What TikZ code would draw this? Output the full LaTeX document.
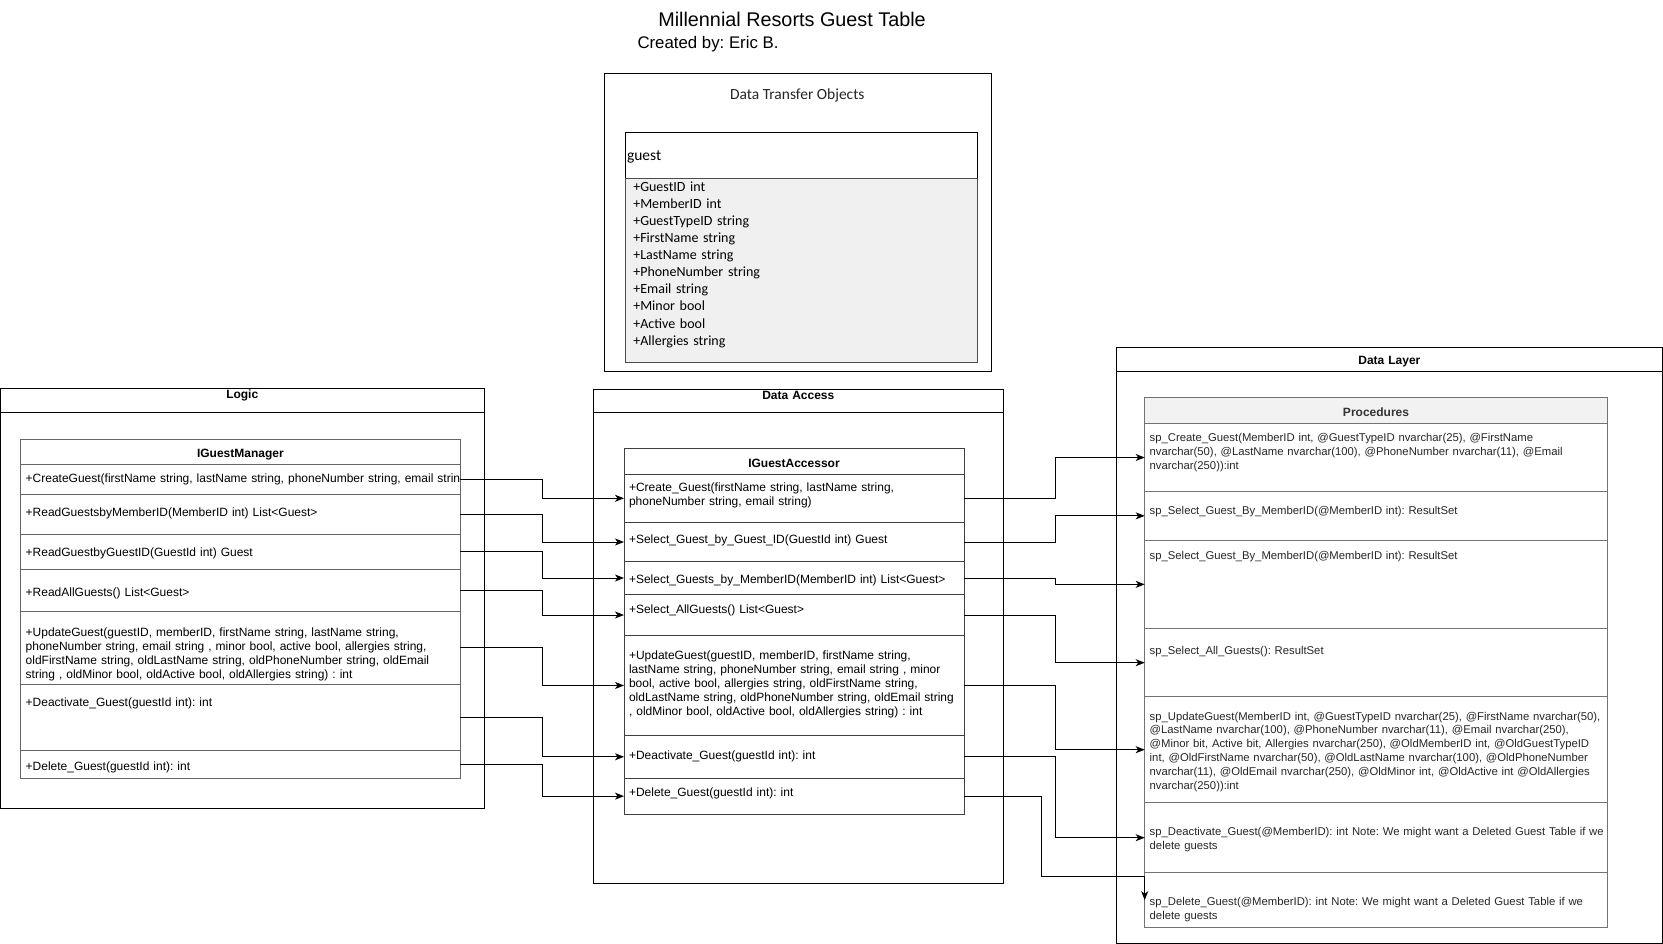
\documentclass[tikz,border=0pt]{standalone}
\usepackage{fontspec}
\setmainfont{Liberation Sans}
\newfontfamily\dtofont{Carlito}
\usetikzlibrary{arrows.meta,positioning}
\newcommand{\umlfont}{\fontsize{12}{14}\selectfont\frenchspacing\hyphenpenalty=10000 }
\newcommand{\procfont}{\fontsize{11.3}{13.9}\selectfont\frenchspacing\hyphenpenalty=10000 }

\begin{document}
\begin{tikzpicture}[x=1pt,y=-1pt,line width=1pt,
	every node/.style={outer sep=0pt},
	row/.style 2 args={anchor=north west,inner xsep=5pt,inner ysep=0pt,text height=#1,text depth=#2,align=left,font=\umlfont},
	lane/.style 2 args={row={#1}{#2},draw=black,inner xsep=0pt,align=center,font=\umlfont\bfseries},
	mgr/.style 2 args={row={#1}{#2},draw=black!60,text width=429.3},
	acc/.style 2 args={row={#1}{#2},draw=black!75,text width=330},
	proc/.style 2 args={row={#1}{#2},draw=black!55,text=black!85,text width=452.6,font=\procfont},
	conn/.style={draw=black,-{Stealth[length=9pt,width=7pt,inset=2.5pt]}}]
	\useasboundingbox (0,0) rectangle (1663,944);
	% Title
	\node [anchor=base,font=\fontsize{19.8}{22}\selectfont] (title) at (792,26.5) {Millennial Resorts Guest Table};
	\node [anchor=base,font=\fontsize{16.8}{19}\selectfont\frenchspacing] (author) at (708,48.3) {Created by: Eric B.};
	% Data Transfer Objects
	\node [draw,anchor=north west,minimum width=387.4,minimum height=297.7] (dto) at (604.3,73.3) {};
	\node [anchor=base,text=black!85,font=\dtofont\fontsize{15.5}{18}\selectfont] (dtotitle) at (797.3,99.5) {Data Transfer Objects};
	\node [row={28.4}{17.6},draw=black,inner xsep=2pt,text width=348.7,font=\dtofont\fontsize{15.5}{18}\selectfont] (guesthead) at (625,132.3) {guest};
	\node [row={13}{171},draw=black!70,fill=black!6,inner xsep=8.3pt,text width=336.1,font=\dtofont\fontsize{14}{17.1}\selectfont] (guestbody) at (guesthead.south west) {+GuestID int\\+MemberID int\\+GuestTypeID string\\+FirstName string\\+LastName string\\+PhoneNumber string\\+Email string\\+Minor bool\\+Active bool\\+Allergies string};
	% Logic
	\node [lane={10}{14},text width=483.5] (logichead) at (0.5,388) {Logic};
	\node [draw,anchor=north west,minimum width=483.5,minimum height=396] (logic) at (logichead.south west) {};
	\node [mgr={18}{7},draw=black!60,align=center,font=\umlfont\bfseries] (mgrhead) at (20.7,439) {IGuestManager};
	\node [mgr={18.7}{12}] (mgr1) at (mgrhead.south west) {\mbox{+CreateGuest(firstName string, lastName string, phoneNumber string, email strin}};
	\node [mgr={22}{17.3}] (mgr2) at (mgr1.south west) {+ReadGuestsbyMemberID(MemberID int) List<Guest>};
	\node [mgr={22.7}{12.3}] (mgr3) at (mgr2.south west) {+ReadGuestbyGuestID(GuestId int) Guest};
	\node [mgr={27.7}{15}] (mgr4) at (mgr3.south west) {+ReadAllGuests() List<Guest>};
	\node [mgr={25}{47.3}] (mgr5) at (mgr4.south west) {+UpdateGuest(guestID, memberID, firstName string, lastName string,\\phoneNumber string, email string , minor bool, active bool, allergies string,\\oldFirstName string, oldLastName string, oldPhoneNumber string, oldEmail\\string , oldMinor bool, oldActive bool, oldAllergies string) : int};
	\node [mgr={22.7}{44}] (mgr6) at (mgr5.south west) {+Deactivate\_Guest(guestId int): int};
	\node [mgr={20}{8}] (mgr7) at (mgr6.south west) {+Delete\_Guest(guestId int): int};
	% Data Access
	\node [lane={10.5}{12.5},text width=410] (acchead) at (593.3,389) {Data Access};
	\node [draw,anchor=north west,minimum width=410,minimum height=471.3] (access) at (acchead.south west) {};
	\node [acc={18.3}{7.3},align=center,font=\umlfont\bfseries] (accessorhead) at (624,448.7) {IGuestAccessor};
	\node [acc={17}{31}] (acc1) at (accessorhead.south west) {+Create\_Guest(firstName string, lastName string,\\phoneNumber string, email string)};
	\node [acc={21}{18.4}] (acc2) at (acc1.south west) {+Select\_Guest\_by\_Guest\_ID(GuestId int) Guest};
	\node [acc={21.6}{11}] (acc3) at (acc2.south west) {+Select\_Guests\_by\_MemberID(MemberID int) List<Guest>};
	\node [acc={19}{22.4}] (acc4) at (acc3.south west) {+Select\_AllGuests() List<Guest>};
	\node [acc={23.6}{76}] (acc5) at (acc4.south west) {+UpdateGuest(guestID, memberID, firstName string,\\lastName string, phoneNumber string, email string , minor\\bool, active bool, allergies string, oldFirstName string,\\oldLastName string, oldPhoneNumber string, oldEmail string\\\mbox{, oldMinor bool, oldActive bool, oldAllergies string) : int}};
	\node [acc={24}{19}] (acc6) at (acc5.south west) {+Deactivate\_Guest(guestId int): int};
	\node [acc={18.4}{17.3}] (acc7) at (acc6.south west) {+Delete\_Guest(guestId int): int};
	% Data Layer
	\node [lane={17}{6.7},text width=545.3] (layerhead) at (1116.7,347.3) {Data Layer};
	\node [draw,anchor=north west,minimum width=545.3,minimum height=572] (layer) at (layerhead.south west) {};
	\node [proc={18.3}{7.3},fill=black!5,align=center,text=black!80,font=\umlfont\bfseries] (prochead) at (1144.7,397.7) {Procedures};
	\node [proc={18.4}{50}] (proc1) at (prochead.south west) {sp\_Create\_Guest(MemberID int, @GuestTypeID nvarchar(25), @FirstName\\nvarchar(50), @LastName nvarchar(100), @PhoneNumber nvarchar(11), @Email\\nvarchar(250)):int};
	\node [proc={22.3}{26}] (proc2) at (proc1.south west) {sp\_Select\_Guest\_By\_MemberID(@MemberID int): ResultSet};
	\node [proc={19.7}{69}] (proc3) at (proc2.south west) {sp\_Select\_Guest\_By\_MemberID(@MemberID int): ResultSet};
	\node [proc={25.3}{42.7}] (proc4) at (proc3.south west) {sp\_Select\_All\_Guests(): ResultSet};
	\node [proc={23.3}{82.7}] (proc5) at (proc4.south west) {sp\_UpdateGuest(MemberID int, @GuestTypeID nvarchar(25), @FirstName nvarchar(50),\\@LastName nvarchar(100), @PhoneNumber nvarchar(11), @Email nvarchar(250),\\@Minor bit, Active bit, Allergies nvarchar(250), @OldMemberID int, @OldGuestTypeID\\int, @OldFirstName nvarchar(50), @OldLastName nvarchar(100), @OldPhoneNumber\\nvarchar(11), @OldEmail nvarchar(250), @OldMinor int, @OldActive int @OldAllergies\\nvarchar(250)):int};
	\node [proc={33}{37}] (proc6) at (proc5.south west) {\mbox{sp\_Deactivate\_Guest(@MemberID): int Note: We might want a Deleted Guest Table if we}\\delete guests};
	\node [proc={33}{22}] (proc7) at (proc6.south west) {\mbox{sp\_Delete\_Guest(@MemberID): int Note: We might want a Deleted Guest Table if we}\\delete guests};
	% Logic -> Data Access
	\draw [conn] (mgr1.east) -- ++(82,0) |- (acc1.west);
	\draw [conn] (mgr2.east) -- ++(82,0) |- (acc2.west);
	\draw [conn] (mgr3.east) -- ++(82,0) |- (acc3.west);
	\draw [conn] (mgr4.east) -- ++(82,0) |- (acc4.west);
	\draw [conn] (mgr5.east) -- ++(82,0) |- (acc5.west);
	\draw [conn] (mgr6.east) -- ++(82,0) |- (acc6.west);
	\draw [conn] (mgr7.east) -- ++(82,0) |- (acc7.west);
	% Data Access -> Data Layer
	\draw [conn] (acc1.east) -- ++(91,0) |- (proc1.west);
	\draw [conn] (acc2.east) -- ++(91,0) |- (proc2.west);
	\draw [conn] (acc3.east) -- ++(91,0) |- (proc3.west);
	\draw [conn] (acc4.east) -- ++(91,0) |- (proc4.west);
	\draw [conn] (acc5.east) -- ++(91,0) |- (proc5.west);
	\draw [conn] (acc6.east) -- ++(91,0) |- (proc6.west);
	\coordinate (delbend) at (1041,876.7);
	\draw [conn] (acc7.east) -| (delbend) -| (proc7.west);
\end{tikzpicture}
\end{document}
